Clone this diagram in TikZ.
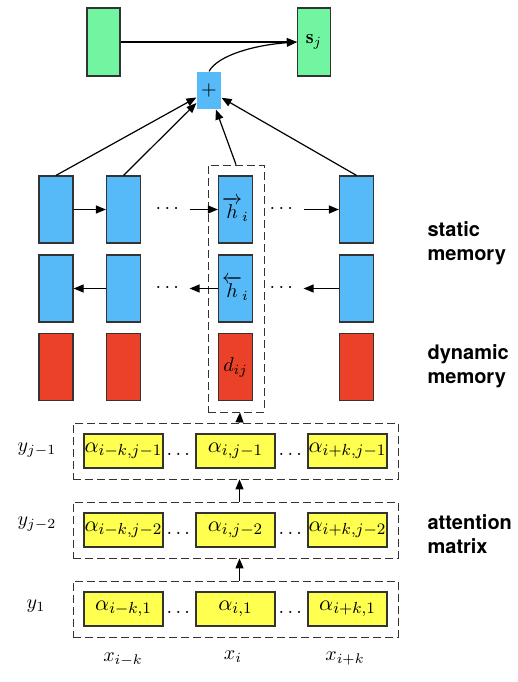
\documentclass[tikz,border=0pt]{standalone}
\usepackage{amsmath,amssymb}
\usepackage{fontspec}
\newfontfamily\tagfont{TeX Gyre Heros}
\usetikzlibrary{arrows,arrows.meta}
\definecolor{memgreen}{RGB}{114,245,160}
\definecolor{memblue}{RGB}{86,185,248}
\definecolor{memred}{RGB}{234,65,40}
\definecolor{attyellow}{RGB}{255,255,80}
\begin{document}
\begin{tikzpicture}[x=0.5pt,y=-0.5pt,>={Triangle[length=5pt,width=4pt]},semithick,
  outbox/.style={draw=black!80,fill=memgreen,minimum width=16.5pt,minimum height=34pt,inner sep=0pt},
  sumbox/.style={fill=memblue,minimum width=12pt,minimum height=18.5pt,inner sep=0pt},
  hbox/.style={draw=black!80,fill=memblue,minimum width=17pt,minimum height=33.5pt,inner sep=0pt},
  dbox/.style={draw=black!80,fill=memred,minimum width=17pt,minimum height=33.5pt,inner sep=0pt},
  abox/.style={draw=black!80,fill=attyellow,minimum width=39.5pt,minimum height=17pt,inner sep=0pt,
    font=\fontsize{11}{13}\selectfont},
  dashbox/.style={draw=black!80,thin,dash pattern=on 4pt off 2pt},
  tag/.style={font=\tagfont\bfseries,align=left,inner sep=0pt,anchor=west}]
\useasboundingbox (0,0) rectangle (518,682);
% output
\node[outbox] (s0) at (103.5,42) {};
\node[outbox] (sj) at (314,42) {$\mathbf{s}_j$};
\node[sumbox] (plus) at (209,90.5) {$+$};
\draw[->] (s0) -- (sj);
\draw[->] (plus.north) .. controls (218,55) and (255,45) .. (sj.west);
% static and dynamic memory
\node[dashbox,minimum width=28pt,minimum height=123.5pt] (col) at (236,288.5) {};
\node[hbox] (f1) at (56,209.5) {};
\node[hbox] (f2) at (123.5,209.5) {};
\node[hbox] (f3) at (235.5,209.5) {$\overrightarrow{h}_i$};
\node[hbox] (f4) at (356.5,209.5) {};
\node[hbox] (b1) at (56,288.5) {};
\node[hbox] (b2) at (123.5,288.5) {};
\node[hbox] (b3) at (235.5,288.5) {$\overleftarrow{h}_i$};
\node[hbox] (b4) at (356.5,288.5) {};
\node[dbox] (d1) at (56,367) {};
\node[dbox] (d2) at (123.5,367) {};
\node[dbox] (d3) at (235.5,367) {$d_{ij}$};
\node[dbox] (d4) at (356.5,367) {};
\node (fdots1) at (169,209.5) {$\cdots$};
\node (fdots2) at (283,209.5) {$\cdots$};
\node (bdots1) at (169,288.5) {$\cdots$};
\node (bdots2) at (283,288.5) {$\cdots$};
\draw[->] (f1) -- (f2);
\draw[->] (fdots1) -- (f3);
\draw[->] (fdots2) -- (f4);
\draw[->] (b2) -- (b1);
\draw[->] (b3) -- (bdots1);
\draw[->] (b4) -- (bdots2);
\draw[->] (f1.north) -- (plus);
\draw[->] (f2.north) -- (plus);
\draw[->] (col.north) -- (plus);
\draw[->] (f4.north) -- (plus);
% attention matrix
\node[dashbox,minimum width=162.5pt,minimum height=28pt] (r1) at (235.5,451) {};
\node[dashbox,minimum width=162.5pt,minimum height=28pt] (r2) at (235.5,530) {};
\node[dashbox,minimum width=162.5pt,minimum height=28pt] (r3) at (235.5,609) {};
\node[abox] (a11) at (123.5,451) {$\alpha_{i-k,j-1}$};
\node[abox] (a12) at (235.5,451) {$\alpha_{i,j-1}$};
\node[abox] (a13) at (347.5,451) {$\alpha_{i+k,j-1}$};
\node[abox] (a21) at (123.5,530) {$\alpha_{i-k,j-2}$};
\node[abox] (a22) at (235.5,530) {$\alpha_{i,j-2}$};
\node[abox] (a23) at (347.5,530) {$\alpha_{i+k,j-2}$};
\node[abox] (a31) at (123.5,609) {$\alpha_{i-k,1}$};
\node[abox] (a32) at (235.5,609) {$\alpha_{i,1}$};
\node[abox] (a33) at (347.5,609) {$\alpha_{i+k,1}$};
\node (adots11) at (180,454) {$\dots$};
\node (adots12) at (292,454) {$\dots$};
\node (adots21) at (180,533) {$\dots$};
\node (adots22) at (292,533) {$\dots$};
\node (adots31) at (180,612) {$\dots$};
\node (adots32) at (292,612) {$\dots$};
\draw[->] ([xshift=2pt]r3.north) -- ([xshift=2pt]r2.south);
\draw[->] ([xshift=2pt]r2.north) -- ([xshift=2pt]r1.south);
\draw[->] ([xshift=2pt]r1.north) -- ([xshift=2pt]col.south);
% row and column labels
\node (y1) at (37,450) {$y_{j-1}$};
\node (y2) at (37,524) {$y_{j-2}$};
\node (y3) at (36,606) {$y_1$};
\node (x1) at (123,660) {$x_{i-k}$};
\node (x2) at (233,657) {$x_i$};
\node (x3) at (345,659) {$x_{i+k}$};
\node[tag] (stat) at (427,243) {static\\memory};
\node[tag] (dyn) at (427,366) {dynamic\\memory};
\node[tag] (att) at (427,534) {attention\\matrix};
\end{tikzpicture}
\end{document}
